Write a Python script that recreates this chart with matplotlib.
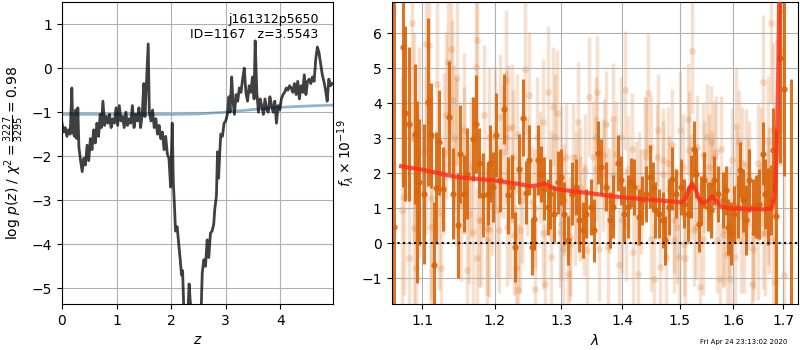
import matplotlib
matplotlib.use("Agg")
import matplotlib.pyplot as plt
from matplotlib.ticker import FormatStrFormatter, NullLocator

# ── p(z) panel ───────────────────────────────────────────────
Z_GRID = [
    0.00, 0.03, 0.06, 0.09, 0.12, 0.15, 0.18, 0.20, 0.23, 0.25,
    0.27, 0.29, 0.31, 0.34, 0.37, 0.40, 0.43, 0.46, 0.49, 0.52,
    0.55, 0.58, 0.61, 0.64, 0.67, 0.70, 0.72, 0.75, 0.78, 0.81,
    0.84, 0.87, 0.90, 0.93, 0.96, 0.99, 1.02, 1.05, 1.08, 1.11,
    1.14, 1.17, 1.20, 1.23, 1.26, 1.29, 1.32, 1.35, 1.38, 1.41,
    1.44, 1.47, 1.50, 1.52, 1.55, 1.58, 1.60, 1.63, 1.66, 1.69,
    1.72, 1.75, 1.78, 1.81, 1.84, 1.87, 1.90, 1.93, 1.96, 1.99,
    2.02, 2.04, 2.06, 2.08, 2.11, 2.14, 2.17, 2.19, 2.21, 2.23,
    2.27, 2.31, 2.33, 2.35, 2.38, 2.45, 2.52, 2.55, 2.57, 2.60,
    2.63, 2.66, 2.69, 2.72, 2.75, 2.78, 2.80, 2.83, 2.85, 2.87,
    2.89, 2.91, 2.94, 2.97, 3.00, 3.03, 3.06, 3.08, 3.11, 3.13,
    3.16, 3.19, 3.22, 3.25, 3.28, 3.31, 3.34, 3.37, 3.40, 3.43,
    3.46, 3.49, 3.52, 3.54, 3.57, 3.60, 3.63, 3.66, 3.69, 3.72,
    3.75, 3.78, 3.81, 3.84, 3.87, 3.90, 3.93, 3.96, 3.99, 4.02,
    4.05, 4.08, 4.11, 4.14, 4.17, 4.20, 4.23, 4.26, 4.29, 4.32,
    4.35, 4.38, 4.41, 4.44, 4.47, 4.50, 4.53, 4.56, 4.59, 4.62,
    4.65, 4.68, 4.71, 4.74, 4.77, 4.80, 4.83, 4.86, 4.89, 4.92,
    4.95,
]
LOG_PZ = [
    -1.25, -1.45, -1.35, -1.55, -1.40, -1.50, -0.45, -1.45, -1.55, -0.95,
    -1.60, -0.90, -1.80, -2.10, -2.35, -2.05, -2.20, -1.75, -2.10, -1.60,
    -1.85, -1.40, -1.70, -1.25, -1.55, -1.05, -1.35, -0.75, -1.30, -1.10,
    -1.25, -1.05, -1.35, -1.15, -1.25, -0.90, -1.30, -0.85, -1.20, -1.10,
    -1.35, -1.00, -1.30, -1.15, -1.25, -0.85, -1.35, -1.05, -1.20, -0.90,
    -1.35, -1.05, -0.35, -1.10, -0.30, 0.55, -1.00, -1.20, -0.95, -1.35,
    -1.15, -1.50, -1.30, -1.60, -1.45, -1.85, -1.55, -1.95, -2.05, -2.70,
    -1.25, -2.60, -3.10, -3.70, -3.60, -4.00, -4.40, -4.70, -4.60, -5.40,
    -5.50, -5.45, -4.90, -5.30, -5.60, -5.70, -5.55, -5.50, -4.65, -4.35,
    -4.50, -3.90, -4.30, -3.75, -3.70, -3.55, -3.20, -2.90, -1.90, -2.50,
    -1.95, -1.50, -1.55, -1.25, -1.20, -1.05, -0.65, -1.00, -0.20, -0.70,
    -1.05, -0.60, -0.75, -0.45, -0.55, -0.25, 0.00, -0.55, -0.75, -0.40,
    -0.55, -0.20, -0.70, 0.62, -0.55, -1.00, -0.70, -0.85, -1.05, -0.70,
    -0.95, -1.00, -0.65, -0.85, -1.00, -0.75, -1.25, -0.85, -0.95, -0.70,
    -0.60, -0.55, -0.45, -0.50, -0.40, -0.45, -0.55, -0.35, -0.60, -0.30,
    -0.70, -0.40, -0.55, -0.15, -0.60, -0.30, -0.25, -0.35, -0.20, -0.30,
    0.20, 0.48, 0.35, 0.10, -0.15, -0.30, -0.50, -0.75, -0.25, -0.40,
    -0.35,
]
PRIOR_Z = [0.0, 0.5, 1.0, 1.5, 2.0, 2.5, 3.0, 3.5, 4.0, 4.5, 4.95]
LOG_PRIOR = [-1.05, -1.05, -1.05, -1.05, -1.05, -1.04, -1.00, -0.94, -0.89, -0.86, -0.84]

# ── spectrum panel ───────────────────────────────────────────
# combined spectrum
WAVE = [
    1.0635, 1.0751, 1.0777, 1.0820, 1.0904, 1.0925, 1.0960, 1.1017, 1.1080, 1.1116,
    1.1151, 1.1183, 1.1218, 1.1273, 1.1364, 1.1419, 1.1478, 1.1516, 1.1567, 1.1604,
    1.1688, 1.1736, 1.1783, 1.1840, 1.1907, 1.1936, 1.1983, 1.2022, 1.2081, 1.2133,
    1.2192, 1.2256, 1.2305, 1.2354, 1.2425, 1.2465, 1.2515, 1.2550, 1.2590, 1.2651,
    1.2693, 1.2743, 1.2794, 1.2831, 1.2887, 1.2949, 1.3003, 1.3054, 1.3106, 1.3176,
    1.3240, 1.3292, 1.3345, 1.3400, 1.3481, 1.3535, 1.3589, 1.3645, 1.3727, 1.3794,
    1.3837, 1.3921, 1.3978, 1.4034, 1.4090, 1.4148, 1.4204, 1.4278, 1.4337, 1.4406,
    1.4476, 1.4521, 1.4569, 1.4639, 1.4697, 1.4745, 1.4804, 1.4865, 1.4937, 1.5027,
    1.5087, 1.5147, 1.5209, 1.5257, 1.5301, 1.5349, 1.5394, 1.5455, 1.5517, 1.5580,
    1.5643, 1.5705, 1.5800, 1.5865, 1.5896, 1.5961, 1.6024, 1.6088, 1.6141, 1.6185,
    1.6252, 1.6317, 1.6382, 1.6449, 1.6515, 1.6581, 1.6635, 1.6681, 1.6750, 1.6782,
    1.6851, 1.6939, 1.7007, 1.7166,
]
FLUX = [
    0.47, 5.61, 3.71, 3.40, 3.13, 1.47, 1.75, 1.42, 4.04, 3.09,
    -0.63, 1.58, 2.89, 1.56, 3.61, 1.42, 0.51, 2.56, 1.42, 1.99,
    2.99, 3.42, 2.28, 1.37, 1.42, 2.28, 1.61, 3.09, 1.80, 3.85,
    1.37, 1.61, -0.12, 2.13, 3.59, 1.44, 2.39, -0.12, 0.70, 2.37,
    1.99, 1.56, 1.04, 1.42, 0.85, 1.75, 1.90, 0.85, 0.09, 1.42,
    1.61, 0.66, 0.37, 0.85, 1.04, 0.37, 2.58, 2.18, 1.61, 0.66,
    1.04, 2.28, 1.80, 0.85, 1.04, 1.75, 1.61, 0.75, 1.23, 1.42,
    1.90, 1.61, 0.94, 0.85, 0.66, 0.09, 1.04, 1.85, 1.42, 1.61,
    1.13, 0.85, 1.61, 2.68, 1.99, 0.56, 1.23, 1.80, 1.04, 0.94,
    1.80, 1.42, 1.23, 1.51, 0.47, 0.28, 0.85, 1.04, 2.09, 1.23,
    0.66, 1.80, 1.04, 1.04, 1.13, 2.56, 1.42, 1.04, 1.23, 2.66,
    0.77, 5.28, 4.42, -3.00,
]
FLUX_ERR = [
    20.0, 4.0, 2.5, 2.2, 2.0, 2.6, 1.8, 2.0, 2.4, 1.5,
    1.8, 1.6, 1.5, 1.2, 1.6, 1.3, 1.5, 1.4, 1.1, 1.3,
    1.2, 1.4, 1.0, 1.2, 0.9, 1.1, 1.0, 1.2, 0.9, 1.0,
    1.1, 0.9, 1.0, 1.0, 1.1, 0.9, 1.0, 0.8, 0.9, 1.0,
    0.8, 0.9, 0.8, 1.0, 0.8, 0.9, 0.8, 0.9, 0.7, 0.9,
    0.8, 0.9, 0.8, 0.7, 0.8, 0.9, 0.9, 0.8, 0.7, 0.8,
    0.9, 0.8, 0.7, 0.8, 0.9, 0.7, 0.8, 0.8, 0.7, 0.8,
    0.9, 0.7, 0.8, 0.7, 0.8, 0.7, 0.8, 0.9, 0.7, 0.8,
    0.7, 0.8, 0.9, 0.8, 0.7, 0.8, 0.7, 0.8, 0.7, 0.8,
    0.7, 0.8, 0.8, 0.7, 0.8, 0.9, 0.8, 0.9, 0.8, 0.9,
    1.0, 0.9, 0.8, 0.9, 1.0, 0.9, 1.0, 1.1, 1.0, 1.2,
    2.5, 3.0, 2.5, 7.7,
]

# individual exposures, first beam
BEAM_WAVE = [
    1.073, 1.086, 1.089, 1.091, 1.095, 1.105, 1.109, 1.112, 1.119, 1.125,
    1.131, 1.135, 1.139, 1.140, 1.145, 1.147, 1.152, 1.157, 1.161, 1.166,
    1.169, 1.173, 1.175, 1.180, 1.185, 1.189, 1.192, 1.196, 1.201, 1.204,
    1.208, 1.212, 1.216, 1.219, 1.223, 1.227, 1.231, 1.233, 1.234, 1.238,
    1.245, 1.248, 1.251, 1.255, 1.260, 1.263, 1.268, 1.272, 1.275, 1.280,
    1.285, 1.288, 1.293, 1.298, 1.300, 1.303, 1.305, 1.308, 1.311, 1.315,
    1.319, 1.324, 1.327, 1.330, 1.336, 1.341, 1.345, 1.351, 1.356, 1.358,
    1.361, 1.368, 1.372, 1.376, 1.378, 1.384, 1.390, 1.395, 1.399, 1.404,
    1.409, 1.417, 1.423, 1.426, 1.432, 1.438, 1.444, 1.449, 1.455, 1.460,
    1.465, 1.470, 1.475, 1.481, 1.486, 1.490, 1.495, 1.501, 1.506, 1.509,
    1.516, 1.520, 1.522, 1.526, 1.532, 1.537, 1.542, 1.545, 1.551, 1.557,
    1.560, 1.564, 1.570, 1.574, 1.576, 1.582, 1.589, 1.593, 1.598, 1.603,
    1.608, 1.611, 1.618, 1.621, 1.628, 1.631, 1.636, 1.641, 1.648, 1.655,
    1.658, 1.663, 1.668, 1.671, 1.675, 1.678, 1.683, 1.688, 1.692, 1.696,
    1.702,
]
BEAM_FLUX = [
    0.94, 6.28, 3.04, -0.72, 2.61, 5.70, 5.66, 1.28, 4.56, -0.70,
    3.66, 5.18, 5.56, 4.09, 2.32, 4.71, 1.13, 2.37, -0.77, 2.18,
    0.32, 5.04, 5.80, 0.66, 3.66, 0.09, 0.37, 1.47, 3.04, 0.94,
    3.61, 2.61, 4.66, 3.28, 0.70, 2.47, -0.72, 3.13, -1.34, 0.37,
    4.99, 1.90, 4.23, 1.18, -1.31, 3.04, 2.18, 3.47, -1.15, 4.32,
    1.61, 3.90, 3.71, 0.32, 2.42, -0.15, 1.25, 2.47, -0.87, -0.06,
    2.47, 1.61, 3.47, 0.99, 0.66, -0.20, 4.18, 2.47, 2.13, 4.32,
    -0.15, 1.94, 3.42, -0.10, 1.23, 3.56, 2.56, -0.63, 0.66, 4.37,
    2.13, 2.70, 1.42, -0.87, 1.18, 2.61, 4.28, 2.75, -1.01, 2.47,
    -0.68, 2.37, -0.39, 1.56, 2.80, 0.09, 0.47, 3.23, 2.18, -0.41,
    3.56, 1.61, 5.49, 0.37, 2.75, -1.25, 2.52, 1.90, 3.04, 2.89,
    1.70, 2.47, 0.09, -1.01, 2.70, 0.37, -0.30, -1.01, 2.37, -0.39,
    1.61, 2.89, 2.28, 0.28, 1.42, 1.99, -1.15, 0.28, 0.18, 2.18,
    4.61, 0.28, 2.89, 1.23, 6.30, 3.23, -1.10, 5.75, 5.51, 6.66,
    -0.91,
]
BEAM_ERR = [
    3.8, 3.4, 3.0, 3.2, 3.0, 3.2, 2.8, 2.9, 2.6, 2.8,
    2.4, 2.6, 2.5, 2.3, 2.4, 2.3, 2.2, 2.1, 2.3, 2.0,
    2.1, 2.2, 2.3, 1.9, 2.0, 2.1, 1.9, 1.8, 2.0, 1.9,
    1.8, 1.9, 2.0, 1.8, 1.7, 1.9, 1.8, 1.7, 1.9, 1.8,
    1.9, 1.7, 1.8, 1.6, 1.8, 1.7, 1.6, 1.8, 1.7, 1.9,
    1.6, 1.7, 1.8, 1.6, 1.5, 1.7, 1.6, 1.5, 1.7, 1.6,
    1.5, 1.6, 1.7, 1.5, 1.6, 1.5, 1.7, 1.6, 1.5, 1.6,
    1.5, 1.6, 1.5, 1.7, 1.5, 1.6, 1.5, 1.6, 1.5, 1.7,
    1.5, 1.6, 1.5, 1.6, 1.5, 1.6, 1.7, 1.5, 1.6, 1.5,
    1.6, 1.5, 1.6, 1.5, 1.6, 1.5, 1.6, 1.7, 1.5, 1.6,
    1.6, 1.5, 1.8, 1.6, 1.5, 1.6, 1.5, 1.6, 1.5, 1.6,
    1.5, 1.6, 1.5, 1.6, 1.5, 1.6, 1.5, 1.6, 1.5, 1.6,
    1.6, 1.5, 1.6, 1.7, 1.6, 1.5, 1.7, 1.6, 1.8, 1.7,
    1.9, 1.8, 1.9, 2.1, 2.3, 2.5, 2.8, 3.1, 3.3, 3.5,
    3.8,
]

# individual exposures, second beam
BEAM2_WAVE = [
    1.0762, 1.0829, 1.0894, 1.1049, 1.1116, 1.1227, 1.1295, 1.1431, 1.1569, 1.1638,
    1.1749, 1.1778, 1.1890, 1.1918, 1.2061, 1.2161, 1.2176, 1.2249, 1.2278, 1.2396,
    1.2600, 1.2726, 1.2848, 1.2905, 1.3003, 1.3140, 1.3219, 1.3299, 1.3380, 1.3563,
    1.3699, 1.3837, 1.3978, 1.4062, 1.4175, 1.4290, 1.4406, 1.4493, 1.4609, 1.4697,
    1.4786, 1.4906, 1.4996, 1.5087, 1.5179, 1.5302, 1.5424, 1.5549, 1.5675, 1.5800,
    1.5928, 1.6058, 1.6155, 1.6253, 1.6382, 1.6481, 1.6581, 1.6681, 1.6782,
]
BEAM2_FLUX = [
    1.32, -0.43, 0.43, 2.66, 0.47, 0.86, 2.57, 3.00, 3.23, 0.85,
    -0.43, 0.66, 0.43, 3.04, 0.37, 3.03, 0.47, 3.31, 0.23, 1.23,
    1.00, 0.28, -0.39, 3.04, 0.56, 0.18, 0.94, 1.61, 2.09, 3.04,
    2.51, 1.94, 3.04, 0.51, -0.25, 1.57, 2.47, 0.13, 3.23, 1.99,
    2.28, 0.66, -0.39, -0.01, 2.66, 0.47, 0.13, 2.18, 2.61, 0.23,
    0.61, 3.32, 0.09, 2.23, -0.15, 2.28, 0.28, 1.09, 0.09,
]
BEAM2_ERR = [
    2.8, 2.6, 2.7, 2.4, 2.5, 2.2, 2.3, 2.1, 2.2, 2.0,
    2.0, 1.9, 1.9, 2.0, 1.8, 1.9, 1.7, 1.8, 1.7, 1.8,
    1.7, 1.6, 1.7, 1.8, 1.6, 1.7, 1.6, 1.7, 1.6, 1.7,
    1.6, 1.5, 1.7, 1.6, 1.5, 1.6, 1.7, 1.5, 1.6, 1.5,
    1.6, 1.5, 1.6, 1.5, 1.7, 1.5, 1.6, 1.5, 1.6, 1.5,
    1.6, 1.7, 1.5, 1.6, 1.5, 1.7, 1.6, 1.7, 1.8,
]

# best-fit template
MODEL_WAVE = [
    1.072, 1.100, 1.146, 1.197, 1.229, 1.254, 1.265, 1.274, 1.285, 1.295,
    1.345, 1.400, 1.459, 1.503, 1.510, 1.517, 1.523, 1.530, 1.537, 1.542,
    1.550, 1.560, 1.568, 1.579, 1.600, 1.630, 1.660, 1.676, 1.682, 1.686,
    1.689, 1.692, 1.700,
]
MODEL_FLUX = [
    2.20, 2.10, 1.89, 1.80, 1.71, 1.63, 1.66, 1.71, 1.60, 1.54,
    1.43, 1.31, 1.23, 1.17, 1.25, 1.55, 1.71, 1.50, 1.22, 1.15,
    1.18, 1.34, 1.20, 1.03, 0.99, 0.97, 0.97, 1.00, 1.30, 2.50,
    4.50, 7.50, 9.00,
]

WAVE_TICKS = [1.1, 1.2, 1.3, 1.4, 1.5, 1.6, 1.7]
ORANGE = "#d9650a"

fig = plt.figure(figsize=(8, 3.5), dpi=100)
ax_z = fig.add_axes([0.0775, 0.131, 0.339, 0.863])
ax_s = fig.add_axes([0.4894, 0.131, 0.5086, 0.863])

# p(z)
ax_z.plot(Z_GRID, LOG_PZ, color="k", alpha=0.75, lw=2, zorder=3)
ax_z.plot(PRIOR_Z, LOG_PRIOR, color="steelblue", alpha=0.6, lw=2, zorder=2)
ax_z.set_xlim(0, 4.97)
ax_z.set_ylim(-5.36, 1.5)
ax_z.set_xticks([0, 1, 2, 3, 4])
ax_z.set_yticks([-5, -4, -3, -2, -1, 0, 1])
ax_z.grid(True)
ax_z.set_xlabel("$z$")
ax_z.set_ylabel(r"$\log\,p(z)$ / $\chi^2=\frac{3227}{3295}=0.98$")
ax_z.text(0.945, 0.965, "j161312p5650\nID=1167   z=3.5543",
          transform=ax_z.transAxes, ha="right", va="top", fontsize=9)

# spectrum
for w, f, e in [(BEAM_WAVE, BEAM_FLUX, BEAM_ERR), (BEAM2_WAVE, BEAM2_FLUX, BEAM2_ERR)]:
    ax_s.errorbar(w, f, yerr=e, fmt="o", color=ORANGE, alpha=0.2, ms=5,
                  elinewidth=2.5, mec="none", zorder=1)
ax_s.errorbar(WAVE, FLUX, yerr=FLUX_ERR, fmt="o", color=ORANGE,
              alpha=0.9, ms=4.5, elinewidth=2.2, mec="none", zorder=2)
ax_s.plot(MODEL_WAVE, MODEL_FLUX, color="#ff2a1a", alpha=0.8, lw=3, zorder=4)
ax_s.axhline(0, color="k", ls=":", lw=1.5, zorder=5)

ax_s.set_xscale("log")
ax_s.set_xticks(WAVE_TICKS)
ax_s.xaxis.set_major_formatter(FormatStrFormatter("%.1f"))
ax_s.xaxis.set_minor_locator(NullLocator())
ax_s.set_xlim(1.0597, 1.731)
ax_s.set_ylim(-1.74, 6.89)
ax_s.set_yticks([-1, 0, 1, 2, 3, 4, 5, 6])
ax_s.grid(True)
ax_s.set_xlabel(r"$\lambda$")
ax_s.set_ylabel(r"$f_\lambda \times 10^{-19}$")

fig.text(0.984, 0.014, "Fri Apr 24 23:13:02 2020", ha="right", va="bottom", fontsize=5)

fig.savefig("out.png", dpi=100)
